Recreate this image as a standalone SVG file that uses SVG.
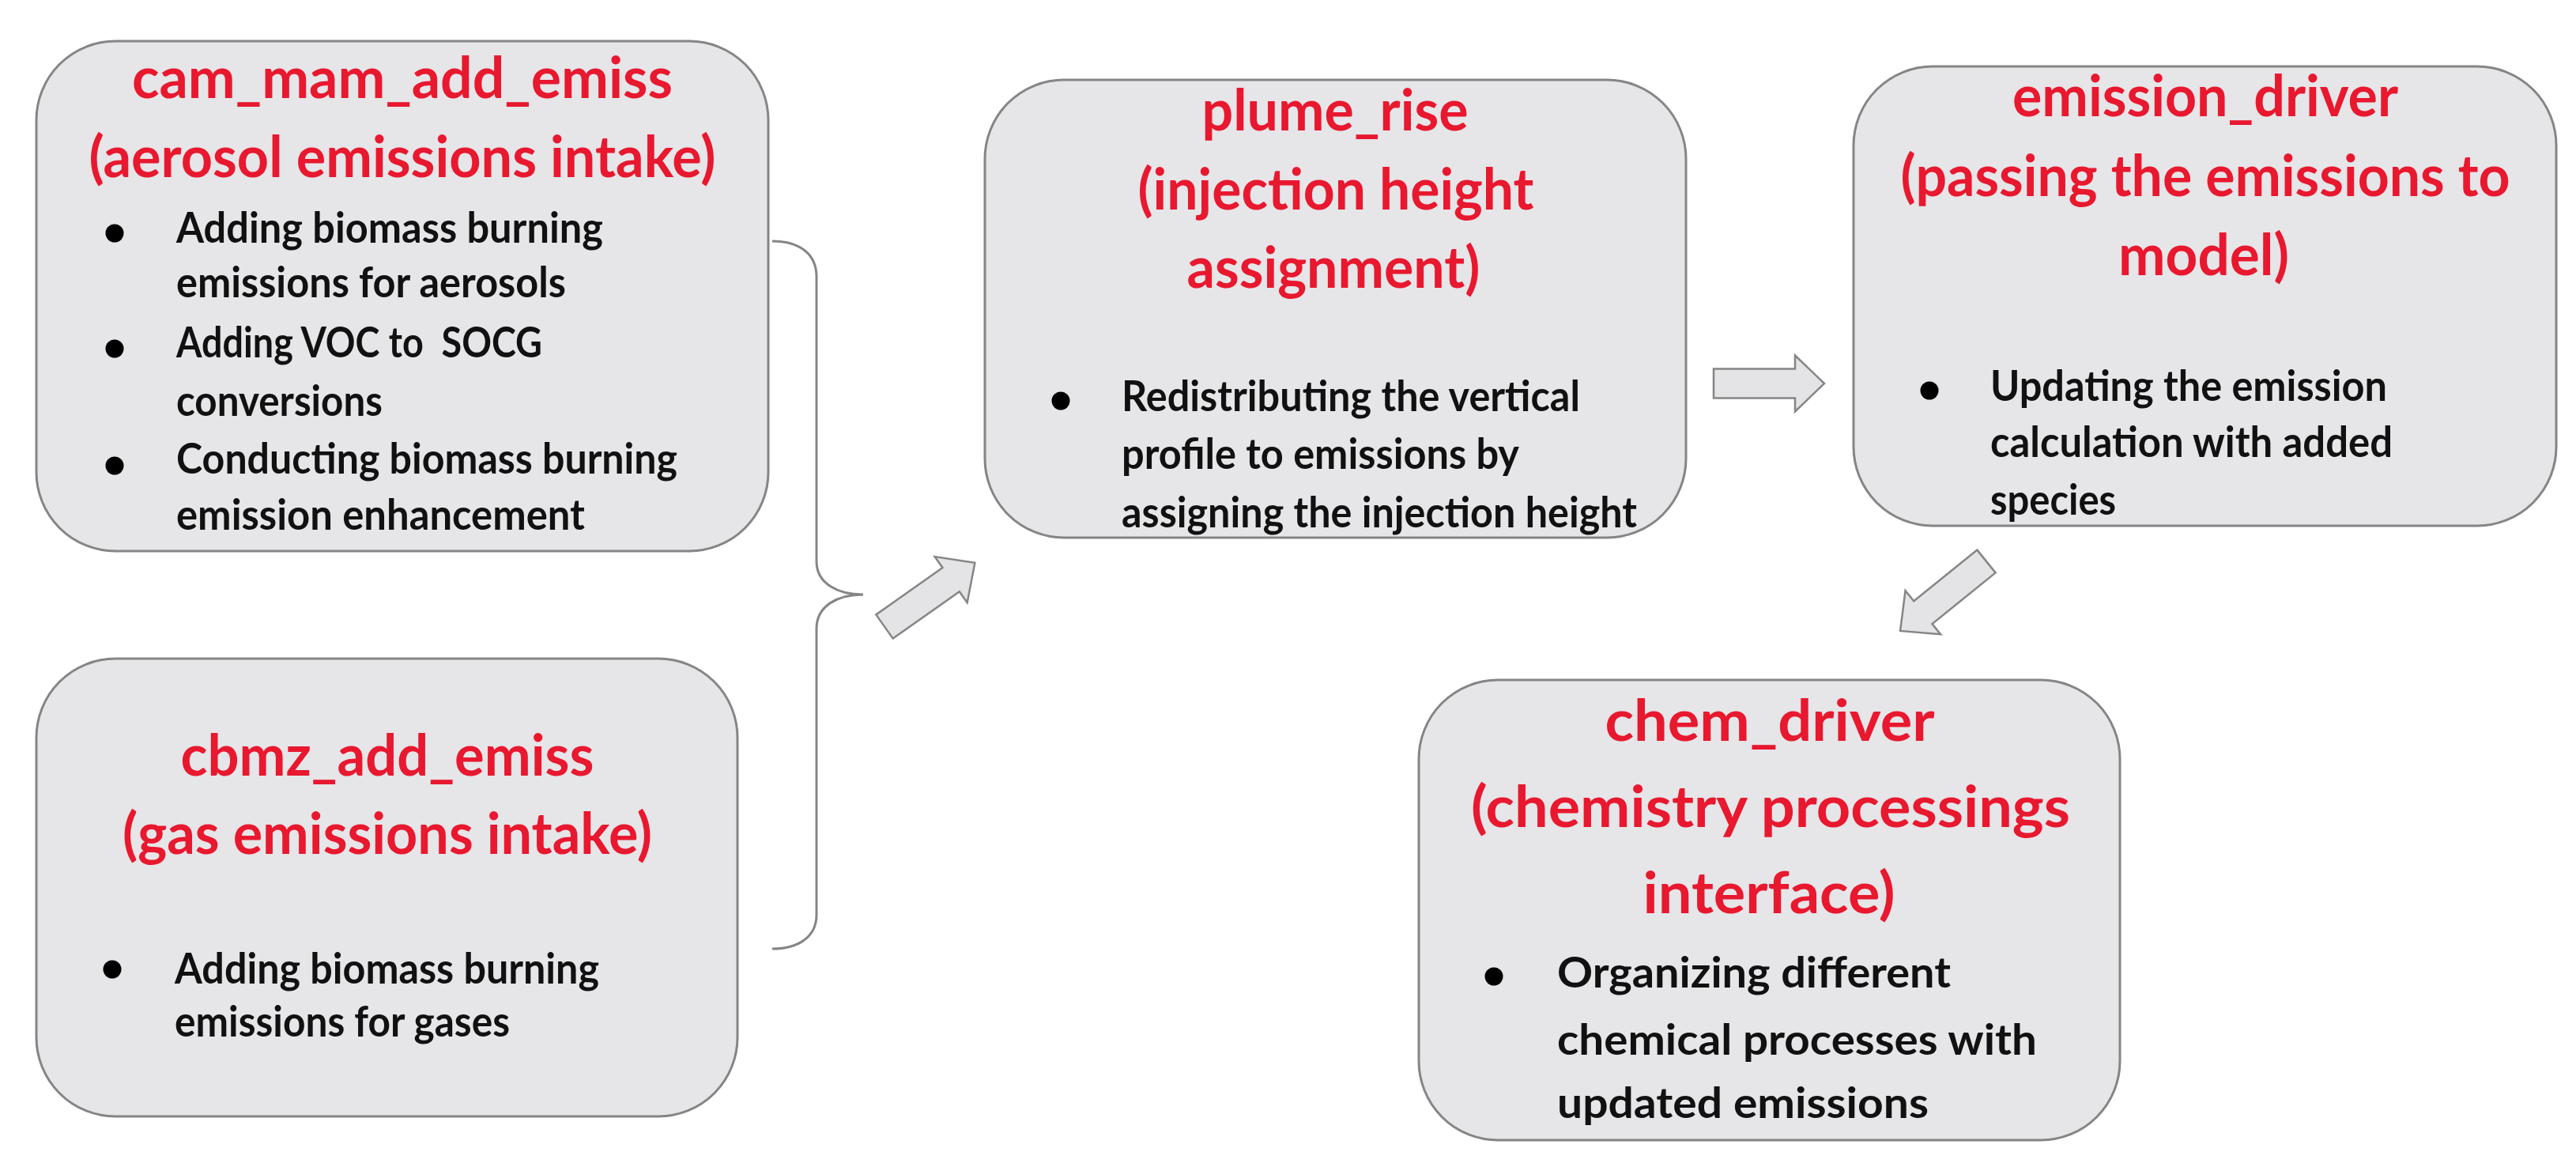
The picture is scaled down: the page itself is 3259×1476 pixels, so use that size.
<svg xmlns="http://www.w3.org/2000/svg" width="3259" height="1476" viewBox="0 0 3259 1476">
<style>
.box{fill:#e6e5e8;stroke:#858585;stroke-width:3}
.t{font-family:Lato,"Liberation Sans",sans-serif;font-weight:bold;font-size:72px;fill:#e8182f;text-anchor:middle}
.b{font-family:Lato,"Liberation Sans",sans-serif;font-weight:bold;font-size:53px;fill:#111111}
.dot{fill:#000000}
.brace{fill:none;stroke:#858585;stroke-width:3}
.arr{fill:#e4e4e6;stroke:#858585;stroke-width:2.5;stroke-linejoin:miter}
</style>
<defs>
<path id="blockArrow" d="M0,-18.5 L103,-18.5 L103,-35.5 L140,0 L103,35.5 L103,18.5 L0,18.5 Z"/>
</defs>
<rect width="3259" height="1476" fill="#ffffff"/>

<g id="connectors">
<path class="brace" d="M977,305 C1010,305 1033,320 1033,350 L1033,710 C1033,738 1060,752 1092,752 C1060,752 1033,766 1033,795 L1033,1157 C1033,1185 1010,1200 977,1200"/>
<use href="#blockArrow" class="arr" transform="translate(1119,792.5) rotate(-35.2)"/>
<use href="#blockArrow" class="arr" transform="translate(2168,485)"/>
<use href="#blockArrow" class="arr" transform="translate(2513,710) rotate(141.1)"/>
</g>

<g id="cam_mam_add_emiss">
<rect class="box" x="46" y="52" width="926" height="645" rx="100" ry="100"/>
<text class="t" x="509" y="124" textLength="684" lengthAdjust="spacingAndGlyphs">cam_mam_add_emiss</text>
<text class="t" x="509" y="224" textLength="793" lengthAdjust="spacingAndGlyphs">(aerosol emissions intake)</text>
<circle class="dot" cx="145" cy="295" r="11.5"/>
<circle class="dot" cx="145" cy="441" r="11.5"/>
<circle class="dot" cx="145" cy="589" r="11.5"/>
<text class="b" x="223" y="307" textLength="540" lengthAdjust="spacingAndGlyphs">Adding biomass burning</text>
<text class="b" x="223" y="376" textLength="493" lengthAdjust="spacingAndGlyphs">emissions for aerosols</text>
<text class="b" x="223" y="452" textLength="463" lengthAdjust="spacingAndGlyphs" xml:space="preserve">Adding VOC to  SOCG</text>
<text class="b" x="223" y="526" textLength="261" lengthAdjust="spacingAndGlyphs">conversions</text>
<text class="b" x="223" y="599" textLength="634" lengthAdjust="spacingAndGlyphs">Conducting biomass burning</text>
<text class="b" x="223" y="670" textLength="517" lengthAdjust="spacingAndGlyphs">emission enhancement</text>
</g>

<g id="cbmz_add_emiss">
<rect class="box" x="46" y="833" width="887" height="579" rx="100" ry="100"/>
<text class="t" x="490" y="981" textLength="523" lengthAdjust="spacingAndGlyphs">cbmz_add_emiss</text>
<text class="t" x="490" y="1080" textLength="670" lengthAdjust="spacingAndGlyphs">(gas emissions intake)</text>
<circle class="dot" cx="142" cy="1226" r="11.5"/>
<text class="b" x="221" y="1244" textLength="537" lengthAdjust="spacingAndGlyphs">Adding biomass burning</text>
<text class="b" x="221" y="1311" textLength="424" lengthAdjust="spacingAndGlyphs">emissions for gases</text>
</g>

<g id="plume_rise">
<rect class="box" x="1246" y="101" width="887" height="579" rx="100" ry="100"/>
<text class="t" x="1689" y="165" textLength="337" lengthAdjust="spacingAndGlyphs">plume_rise</text>
<text class="t" x="1690" y="265" textLength="501" lengthAdjust="spacingAndGlyphs">(injection height</text>
<text class="t" x="1687" y="364" textLength="371" lengthAdjust="spacingAndGlyphs">assignment)</text>
<circle class="dot" cx="1342" cy="507" r="11.5"/>
<text class="b" x="1419" y="520" textLength="580" lengthAdjust="spacingAndGlyphs">Redistributing the vertical</text>
<text class="b" x="1419" y="593" textLength="503" lengthAdjust="spacingAndGlyphs">profile to emissions by</text>
<text class="b" x="1419" y="667" textLength="652" lengthAdjust="spacingAndGlyphs">assigning the injection height</text>
</g>

<g id="emission_driver">
<rect class="box" x="2345" y="84" width="889" height="581" rx="100" ry="100"/>
<text class="t" x="2790" y="147" textLength="488" lengthAdjust="spacingAndGlyphs">emission_driver</text>
<text class="t" x="2790" y="248" textLength="771" lengthAdjust="spacingAndGlyphs">(passing the emissions to</text>
<text class="t" x="2788" y="348" textLength="216" lengthAdjust="spacingAndGlyphs">model)</text>
<circle class="dot" cx="2441" cy="494" r="11.5"/>
<text class="b" x="2518" y="507" textLength="502" lengthAdjust="spacingAndGlyphs">Updating the emission</text>
<text class="b" x="2518" y="578" textLength="509" lengthAdjust="spacingAndGlyphs">calculation with added</text>
<text class="b" x="2518" y="651" textLength="159" lengthAdjust="spacingAndGlyphs">species</text>
</g>

<g id="chem_driver">
<rect class="box" x="1795" y="860" width="887" height="582" rx="100" ry="100"/>
<text class="t" x="2239" y="937" textLength="417" lengthAdjust="spacingAndGlyphs">chem_driver</text>
<text class="t" x="2240" y="1046" textLength="758" lengthAdjust="spacingAndGlyphs">(chemistry processings</text>
<text class="t" x="2238" y="1155" textLength="319" lengthAdjust="spacingAndGlyphs">interface)</text>
<circle class="dot" cx="1890" cy="1235" r="11.5"/>
<text class="b" x="1970" y="1249" textLength="498" lengthAdjust="spacingAndGlyphs">Organizing different</text>
<text class="b" x="1970" y="1334" textLength="607" lengthAdjust="spacingAndGlyphs">chemical processes with</text>
<text class="b" x="1970" y="1414" textLength="470" lengthAdjust="spacingAndGlyphs">updated emissions</text>
</g>
</svg>
